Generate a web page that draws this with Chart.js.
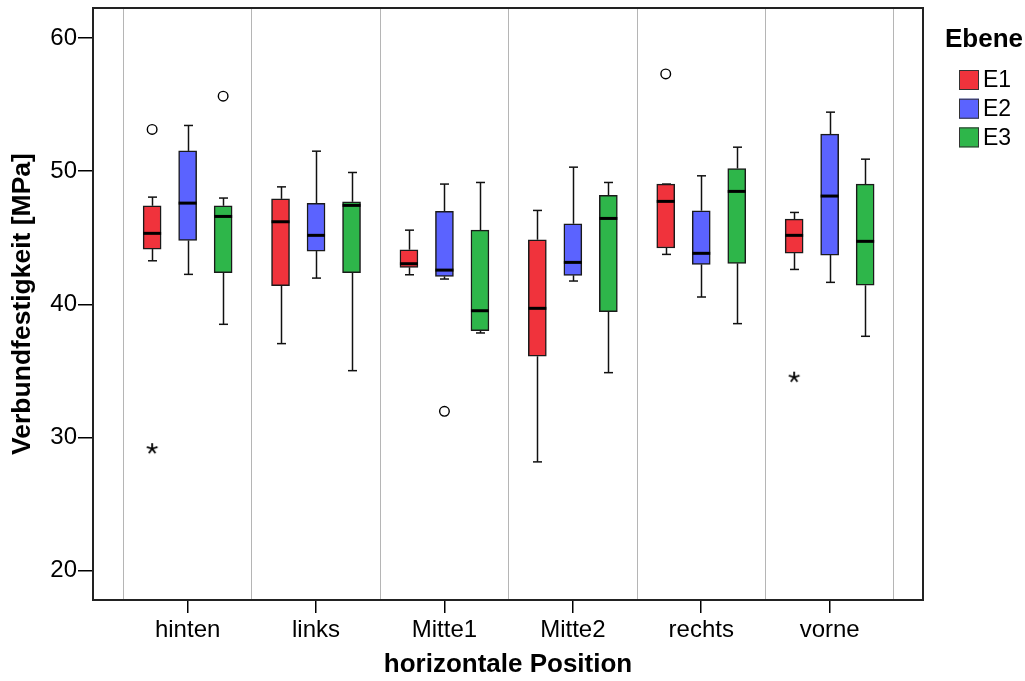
<!DOCTYPE html>
<html><head><meta charset="utf-8">
<script src="https://cdn.jsdelivr.net/npm/chart.js@4.4.1/dist/chart.umd.min.js"></script>
<style>html,body{margin:0;padding:0;background:#fff;}canvas{display:block;}</style>
</head><body>
<canvas id="c" width="1025" height="681"></canvas>
<script>
// ---------- data ----------
const categories = ['hinten', 'links', 'Mitte1', 'Mitte2', 'rechts', 'vorne'];
const seriesNames = ['E1', 'E2', 'E3'];
const yTicks = [20, 30, 40, 50, 60];

const E1_low  = [43.27, 37.05, 42.22, 28.17, 43.75, 42.62];
const E1_q1   = [44.15, 41.40, 42.78, 36.10, 44.23, 43.85];
const E1_med  = [45.33, 46.20, 43.05, 39.70, 47.73, 45.18];
const E1_q3   = [47.40, 47.92, 44.10, 44.85, 49.03, 46.40];
const E1_high = [48.05, 48.82, 45.57, 47.05, 49.03, 46.90];

const E2_low  = [42.25, 41.97, 41.90, 41.75, 40.55, 41.65];
const E2_q1   = [44.80, 44.00, 42.10, 42.18, 43.00, 43.70];
const E2_med  = [47.60, 45.18, 42.57, 43.15, 43.83, 48.13];
const E2_q3   = [51.52, 47.58, 46.98, 46.05, 47.03, 52.78];
const E2_high = [53.43, 51.50, 49.03, 50.30, 49.65, 54.43];

const E3_low  = [38.50, 35.02, 37.85, 34.87, 38.55, 37.60];
const E3_q1   = [42.37, 42.37, 38.02, 39.45, 43.08, 41.43];
const E3_med  = [46.60, 47.43, 39.52, 46.45, 48.48, 44.73];
const E3_q3   = [47.40, 47.70, 45.57, 48.18, 50.20, 49.03];
const E3_high = [47.98, 49.90, 49.15, 49.15, 51.80, 50.90];

// outliers (circles) and extremes (stars): category index, series index, value
const outlierCat    = [0, 0, 2, 4];
const outlierSeries = [0, 2, 1, 0];
const outlierValue  = [53.13, 55.63, 31.97, 57.30];
const extremeCat    = [0, 5];
const extremeSeries = [0, 0];
const extremeValue  = [29.20, 34.57];

// ---------- styling / layout ----------
const FONT = '"Liberation Sans", Arial, Helvetica, sans-serif';
const colors = ['#f0333c', '#5b63ff', '#2eb64a'];
const groupOffset = [-0.2765, 0, 0.2765];
const stats = [
  {low: E1_low, q1: E1_q1, med: E1_med, q3: E1_q3, high: E1_high},
  {low: E2_low, q1: E2_q1, med: E2_med, q3: E2_q3, high: E2_high},
  {low: E3_low, q1: E3_q1, med: E3_med, q3: E3_q3, high: E3_high}
];

// asterisk point style
function makeStar() {
  const c = document.createElement('canvas');
  c.width = 14; c.height = 14;
  const g = c.getContext('2d');
  g.strokeStyle = '#000'; g.lineWidth = 1.8; g.lineCap = 'butt';
  const cx = 7, cy = 7.5, r = 5.6;
  for (let k = 0; k < 5; k++) {
    const a = -Math.PI / 2 + k * 2 * Math.PI / 5;
    g.beginPath(); g.moveTo(cx, cy); g.lineTo(cx + r * Math.cos(a), cy + r * Math.sin(a)); g.stroke();
  }
  return c;
}
const starImg = makeStar();

const datasets = [];
stats.forEach((s, si) => {
  datasets.push({
    type: 'bar',
    label: seriesNames[si],
    data: categories.map((c, i) => ({x: i + groupOffset[si], y: [s.q1[i], s.q3[i]]})),
    backgroundColor: colors[si],
    borderColor: '#1a1a1a',
    borderWidth: 1.5,
    borderSkipped: false,
    barThickness: 18,
    grouped: false,
    order: 2
  });
});
datasets.push({
  type: 'scatter',
  label: 'outliers',
  data: outlierValue.map((v, k) => ({x: outlierCat[k] + groupOffset[outlierSeries[k]], y: v})),
  pointStyle: 'circle',
  pointRadius: 4.8,
  backgroundColor: '#ffffff',
  borderColor: '#000000',
  borderWidth: 1.4,
  order: 0
});
datasets.push({
  type: 'scatter',
  label: 'extremes',
  data: extremeValue.map((v, k) => ({x: extremeCat[k] + groupOffset[extremeSeries[k]], y: v})),
  pointStyle: starImg,
  pointRadius: 7,
  order: 0
});

const boxPlugin = {
  id: 'boxParts',
  beforeDatasetsDraw(chart) {
    const ctx = chart.ctx, y = chart.scales.y;
    ctx.save();
    ctx.strokeStyle = '#111'; ctx.lineWidth = 1.5;
    stats.forEach((s, si) => {
      const meta = chart.getDatasetMeta(si);
      meta.data.forEach((bar, i) => {
        const x = Math.round(bar.x) + 0.5;
        const pairs = [[s.q3[i], s.high[i]], [s.q1[i], s.low[i]]];
        pairs.forEach(([from, to]) => {
          const y0 = y.getPixelForValue(from), y1 = y.getPixelForValue(to);
          ctx.beginPath(); ctx.moveTo(x, y0); ctx.lineTo(x, y1); ctx.stroke();
          ctx.beginPath(); ctx.moveTo(x - 4.5, y1); ctx.lineTo(x + 4.5, y1); ctx.stroke();
        });
      });
    });
    ctx.restore();
  },
  afterDatasetsDraw(chart) {
    const ctx = chart.ctx, y = chart.scales.y;
    ctx.save();
    ctx.strokeStyle = '#000'; ctx.lineWidth = 3;
    stats.forEach((s, si) => {
      const meta = chart.getDatasetMeta(si);
      meta.data.forEach((bar, i) => {
        const py = y.getPixelForValue(s.med[i]);
        ctx.beginPath(); ctx.moveTo(bar.x - bar.width / 2, py); ctx.lineTo(bar.x + bar.width / 2, py); ctx.stroke();
      });
    });
    ctx.restore();
  },
  afterDraw(chart) {
    const ctx = chart.ctx, a = chart.chartArea;
    ctx.save();
    // frame
    ctx.strokeStyle = '#222'; ctx.lineWidth = 2;
    ctx.strokeRect(a.left, a.top, a.right - a.left, a.bottom - a.top);
    // legend
    const lx = a.right + 36;
    ctx.fillStyle = '#000';
    ctx.font = 'bold 26px ' + FONT;
    ctx.textAlign = 'center'; ctx.textBaseline = 'middle';
    ctx.fillText('Ebene', a.right + 61, 40);
    ctx.font = '23px ' + FONT;
    ctx.textAlign = 'left';
    seriesNames.forEach((n, k) => {
      const cy = 80 + k * 28.7;
      ctx.fillStyle = colors[k];
      ctx.fillRect(lx, cy - 10, 20, 20);
      ctx.strokeStyle = '#333'; ctx.lineWidth = 1;
      ctx.strokeRect(lx + 0.5, cy - 9.5, 19, 19);
      ctx.fillStyle = '#000';
      ctx.fillText(n, lx + 24, cy + 1);
    });
    ctx.restore();
  }
};

Chart.defaults.font.family = FONT;
Chart.defaults.color = '#000';

new Chart(document.getElementById('c'), {
  type: 'bar',
  data: {datasets},
  options: {
    responsive: false,
    animation: false,
    devicePixelRatio: 1,
    events: [],
    layout: {padding: {left: 0, top: 8, right: 102, bottom: 0}},
    plugins: {legend: {display: false}, tooltip: {enabled: false}},
    scales: {
      x: {
        type: 'linear',
        position: 'bottom',
        offset: false,
        min: -0.737, max: 5.727,
        afterBuildTicks: s => { s.ticks = categories.map((c, i) => ({value: i})); },
        afterFit: s => { s.height = 81; s.paddingLeft = 0; s.paddingRight = 0; },
        ticks: {
          autoSkip: false, maxRotation: 0, padding: 3,
          font: {size: 24}, color: '#000',
          callback: v => categories[v]
        },
        grid: {offset: false, drawOnChartArea: false, drawTicks: true, tickLength: 13, color: '#000', lineWidth: 1.5},
        border: {display: true, color: '#222', width: 2},
        title: {display: true, text: 'horizontale Position', font: {size: 26, weight: 'bold'}, color: '#000', padding: {top: 0, bottom: 1}}
      },
      xg: {
        type: 'linear',
        position: 'top',
        offset: false,
        min: -0.737, max: 5.727,
        afterBuildTicks: s => { s.ticks = [-0.5, 0.5, 1.5, 2.5, 3.5, 4.5, 5.5].map(v => ({value: v})); },
        afterFit: s => { s.height = 0; s.paddingLeft = 0; s.paddingRight = 0; },
        ticks: {display: false},
        grid: {offset: false, drawOnChartArea: true, drawTicks: false, color: '#b5b5b5', lineWidth: 1},
        border: {display: false}
      },
      y: {
        type: 'linear',
        min: 17.8, max: 62.25,
        afterBuildTicks: s => { s.ticks = yTicks.map(v => ({value: v})); },
        afterFit: s => { s.width = 93; s.paddingTop = 0; s.paddingBottom = 0; },
        ticks: {font: {size: 24}, color: '#000', padding: 1},
        grid: {drawOnChartArea: false, drawTicks: true, tickLength: 15, color: '#000', lineWidth: 1.5},
        border: {display: true, color: '#222', width: 2},
        title: {display: true, text: 'Verbundfestigkeit [MPa]', font: {size: 26.5, weight: 'bold'}, color: '#000', padding: {top: 7, bottom: 0}}
      }
    }
  },
  plugins: [boxPlugin]
});
</script>
</body></html>
